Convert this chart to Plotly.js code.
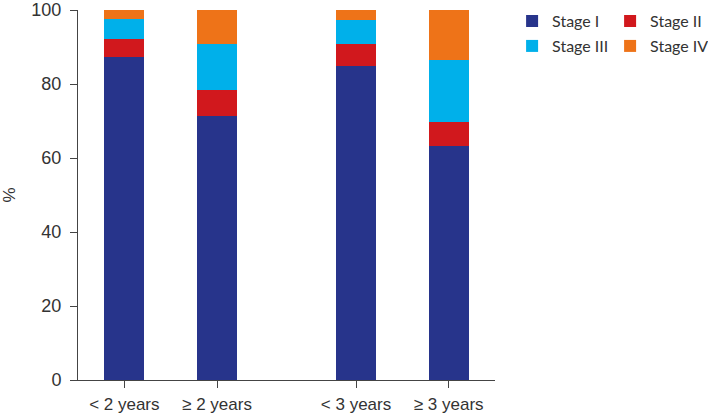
<!DOCTYPE html>
<html>
<head>
<meta charset="utf-8">
<script src="https://cdn.plot.ly/plotly-3.0.1.min.js"></script>
<style>html,body{margin:0;padding:0;background:#fff;}#chart{width:712px;height:417px;}</style>
</head>
<body>
<div id="chart"></div>
<script>
// Data
const groups = [["< 2 years", "≥ 2 years"], ["< 3 years", "≥ 3 years"]];
const categories = ["< 2 years", "≥ 2 years", "< 3 years", "≥ 3 years"];
const stages = ["Stage I", "Stage II", "Stage III", "Stage IV"];
const stageI   = [87.4, 71.4, 84.9, 63.2];
const stageII  = [4.7, 7.0, 6.0, 6.6];
const stageIII = [5.6, 12.5, 6.4, 16.7];
const stageIV  = [2.3, 9.1, 2.7, 13.5];
const yTicks = [0, 20, 40, 60, 80, 100];

const colors = ["#27348b", "#d1181d", "#00b0ea", "#ee7318"];
const series = [stageI, stageII, stageIII, stageIV];

// x positions: categories within a group are 1 apart, groups separated by an extra half step
const xPos = [];
groups.forEach((g, gi) => g.forEach((c, ci) => xPos.push(gi * 2.5 + ci)));

const traces = series.map((vals, i) => ({
  type: "bar",
  name: stages[i],
  x: xPos,
  y: vals,
  width: 0.43,
  marker: { color: colors[i], line: { width: 0 } },
  legend: i < 2 ? "legend" : "legend2",
  hoverinfo: "name+y"
}));

const legendFont = { family: "Lato, 'Open Sans', sans-serif", size: 16, color: "#333" };

const layout = {
  width: 712,
  height: 417,
  margin: { l: 78, r: 217, t: 10, b: 37, autoexpand: false },
  paper_bgcolor: "#fff",
  plot_bgcolor: "#fff",
  barmode: "stack",
  font: { family: "'Liberation Sans', Arial, sans-serif", size: 16, color: "#333" },
  xaxis: {
    range: [-0.5, 4.0],
    tickvals: xPos,
    ticktext: categories,
    ticks: "outside",
    ticklen: 7,
    tickcolor: "#444",
    showline: true,
    linecolor: "#444",
    linewidth: 1,
    showgrid: false,
    zeroline: false,
    ticklabelstandoff: 2,
    tickfont: { size: 17, color: "#333" }
  },
  yaxis: {
    range: [0, 100],
    tickvals: yTicks,
    ticks: "outside",
    ticklen: 7,
    tickcolor: "#444",
    showline: true,
    linecolor: "#444",
    linewidth: 1,
    showgrid: false,
    zeroline: false,
    ticklabelstandoff: 5,
    tickfont: { size: 18, color: "#333" },
    title: { text: "%", font: { size: 17, color: "#333" }, standoff: 18 }
  },
  legend: {
    orientation: "h",
    traceorder: "normal",
    x: 1.041, xanchor: "left",
    y: 1.016, yanchor: "top",
    entrywidth: 53,
    font: legendFont,
    bgcolor: "rgba(0,0,0,0)"
  },
  legend2: {
    orientation: "h",
    traceorder: "normal",
    x: 1.041, xanchor: "left",
    y: 0.9486, yanchor: "top",
    entrywidth: 53,
    font: legendFont,
    bgcolor: "rgba(0,0,0,0)"
  },
  bargap: 0
};

Plotly.newPlot("chart", traces, layout, { displayModeBar: false, staticPlot: true });
</script>
</body>
</html>
